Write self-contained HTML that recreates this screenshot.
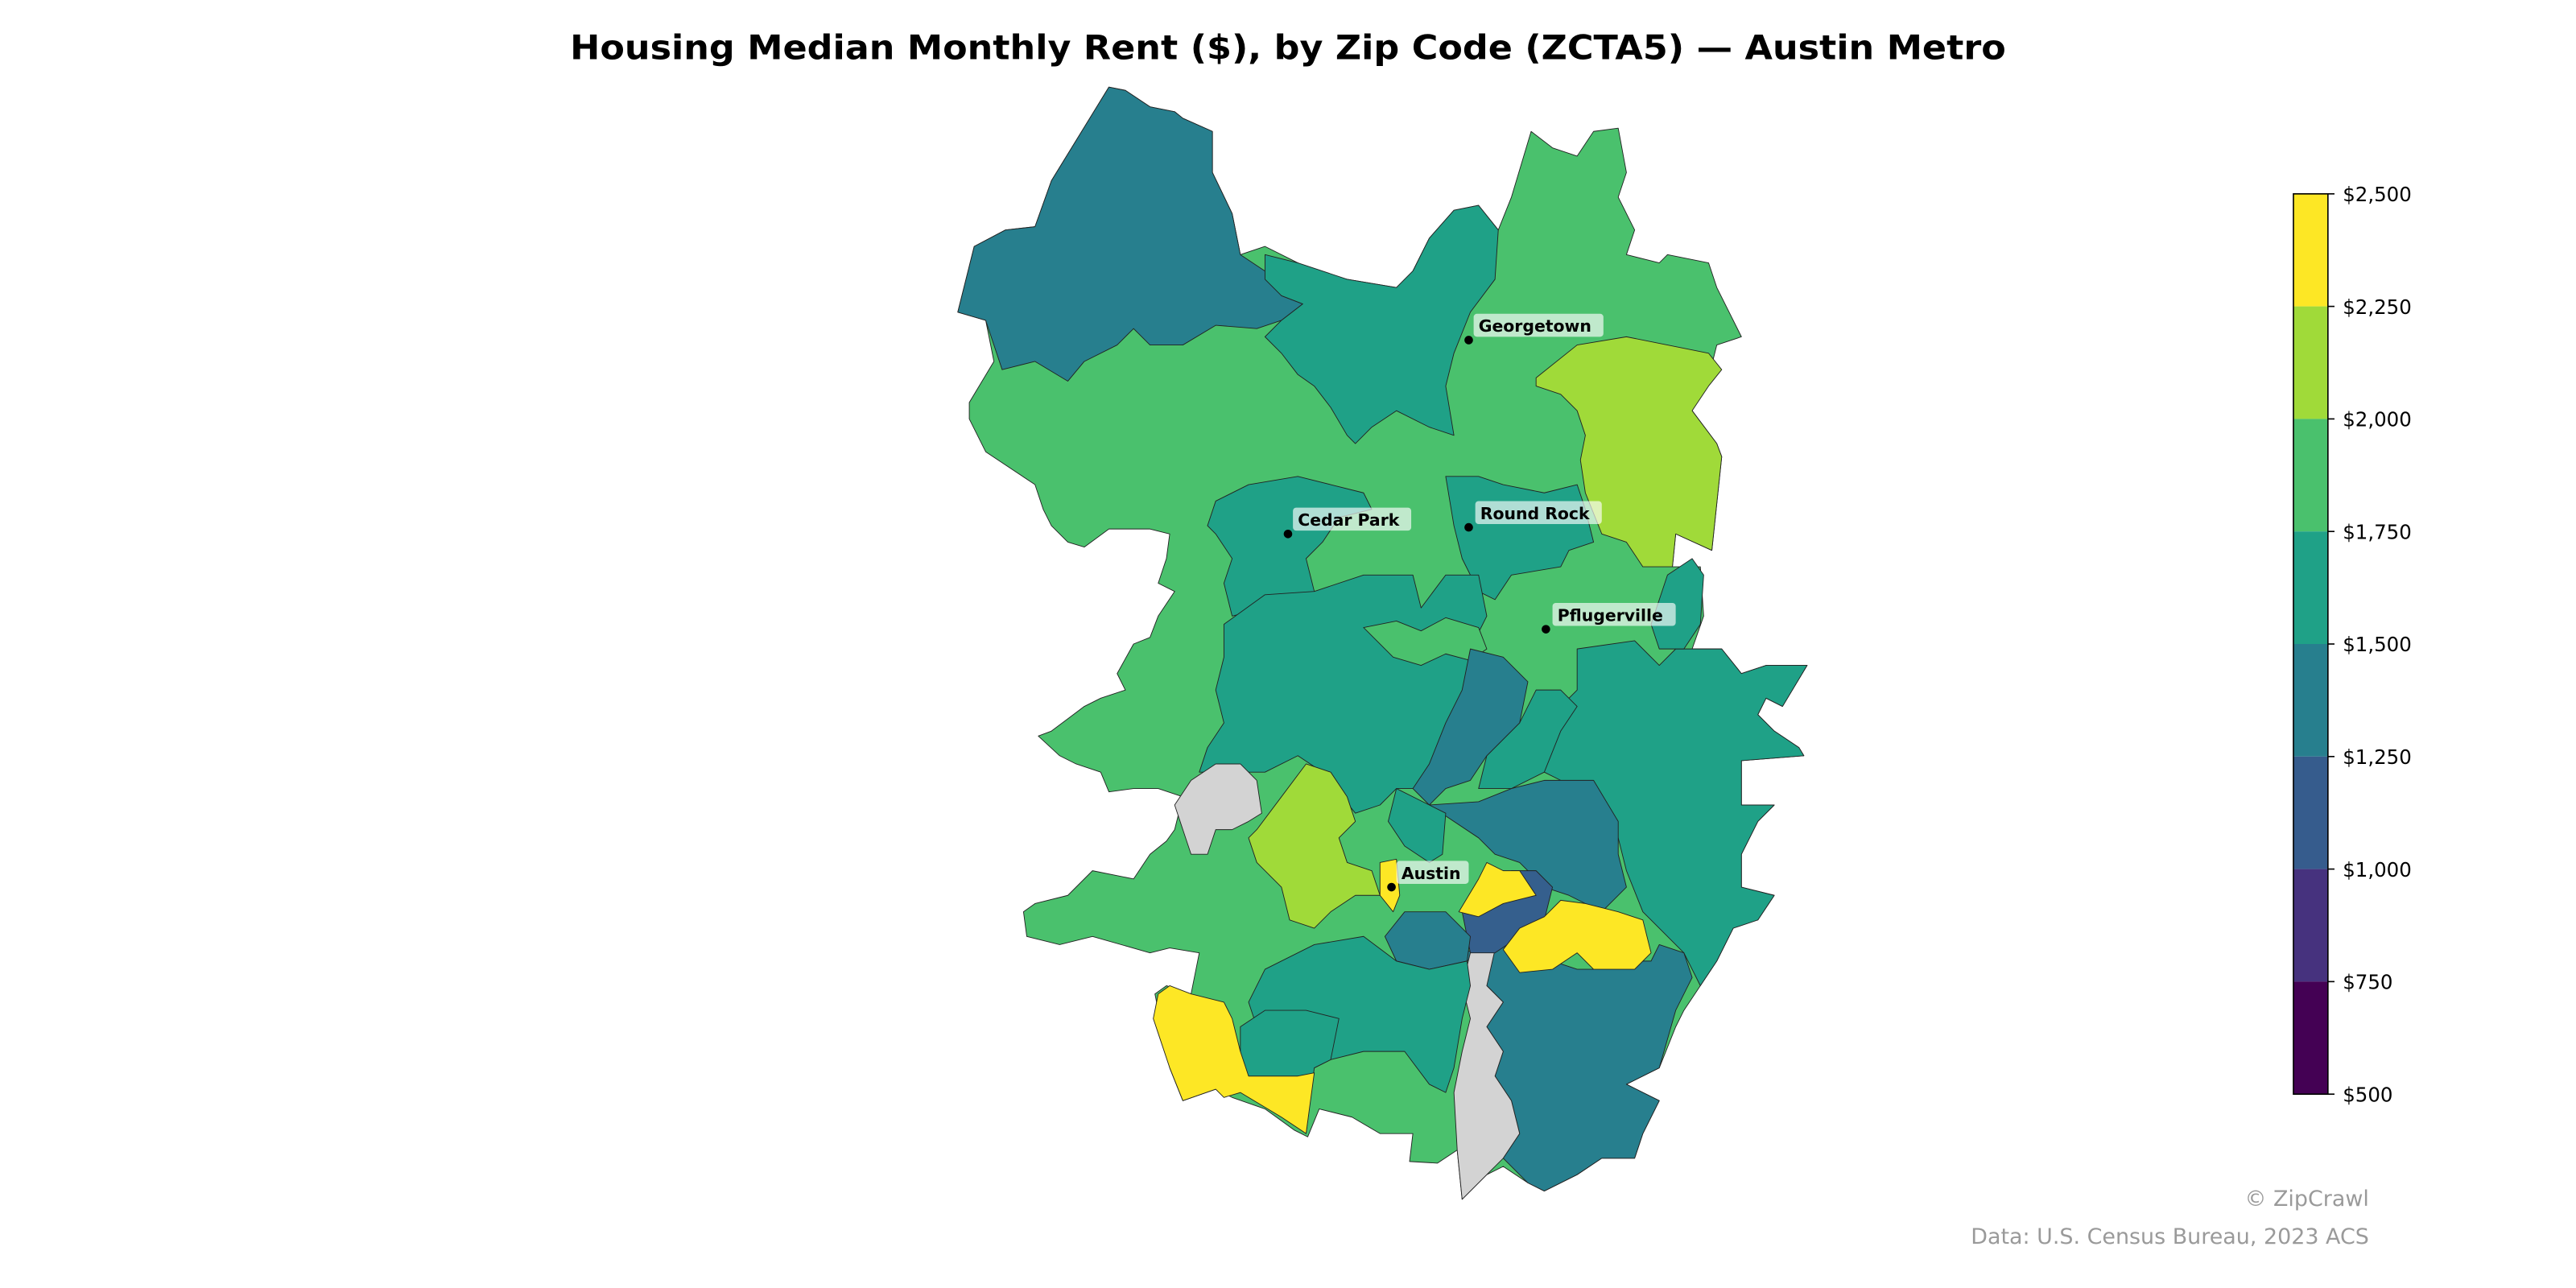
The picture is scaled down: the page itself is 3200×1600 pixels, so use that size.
<!DOCTYPE html>
<html><head><meta charset="utf-8"><style>
html,body{margin:0;padding:0;background:#fff;}
svg{display:block;}
text{font-family:"DejaVu Sans","Liberation Sans",sans-serif;}
</style></head><body>
<svg width="3200" height="1600" viewBox="0 0 1568 784" xmlns="http://www.w3.org/2000/svg">
<rect width="1568" height="784" fill="#fff"/>
<text x="784" y="36" text-anchor="middle" font-size="20.5" font-weight="bold" textLength="874" lengthAdjust="spacingAndGlyphs">Housing Median Monthly Rent ($), by Zip Code (ZCTA5) — Austin Metro</text>
<g stroke="#222" stroke-width="0.45" stroke-linejoin="round">
<polygon fill="#4ac16d" points="583,190 593,150 612,140 630,138 640,110 675,53 685,55 700,65 715,68 720,72 738,80 738,105 750,130 755,155 770,150 790,160 800,165 820,170 850,175 860,165 870,145 885,128 900,125 912,140 920,120 932,80 945,90 960,95 970,80 985,78 990,105 985,120 995,140 990,155 1010,160 1015,155 1040,160 1045,175 1060,205 1045,210 1040,230 1030,250 1045,270 1048,278 1042,335 1020,325 1018,345 1035,345 1037,375 1030,395 1048,395 1060,410 1075,405 1100,405 1085,430 1075,425 1070,435 1080,445 1095,455 1098,460 1060,463 1060,490 1080,490 1070,500 1060,520 1060,540 1080,545 1070,560 1065,555 1055,565 1045,585 1035,600 1025,615 1020,625 1010,650 990,660 1010,670 1000,690 995,705 975,705 960,715 940,725 930,720 915,710 905,715 890,730 887,700 875,708 858,707 860,690 840,690 823,680 803,675 796,692 788,688 770,675 750,668 740,663 720,670 712,650 708,630 703,605 710,600 725,605 730,580 712,577 700,580 665,570 645,575 625,570 623,555 630,550 650,545 665,530 690,535 700,520 710,512 715,505 720,485 705,480 690,480 675,482 670,470 655,465 645,460 632,448 640,445 660,430 670,425 685,420 680,410 690,392 700,388 705,375 715,360 705,355 710,340 712,325 700,322 675,322 660,333 650,330 640,320 635,310 630,295 600,275 590,255 590,245 605,220 600,195"/>
<polygon fill="#277f8e" points="583,190 593,150 612,140 630,138 640,110 675,53 685,55 700,65 715,68 720,72 738,80 738,105 750,130 755,155 770,165 780,180 793,185 780,195 765,200 740,198 720,210 700,210 690,200 680,210 660,220 650,232 630,220 610,225 600,195"/>
<polygon fill="#1fa187" points="770,155 790,160 820,170 850,175 860,165 870,145 885,128 900,125 912,140 910,170 895,190 885,215 880,235 885,265 870,260 850,250 835,260 825,270 820,265 810,248 800,235 790,228 780,215 770,205 780,195 793,185 780,180 770,170"/>
<polygon fill="#a0da39" points="935,230 960,210 990,205 1015,210 1040,215 1048,225 1040,235 1030,250 1045,270 1048,278 1042,335 1020,325 1018,345 1000,345 990,330 975,325 965,300 962,280 965,265 960,250 950,240 935,235"/>
<polygon fill="#1fa187" points="880,290 900,290 915,295 940,300 960,295 965,310 970,330 955,335 950,345 920,350 910,365 900,360 890,340 885,320"/>
<polygon fill="#1fa187" points="735,320 740,305 760,295 790,290 810,295 830,300 835,310 815,315 805,330 795,340 800,360 790,375 770,370 750,375 745,355 750,340 740,325"/>
<polygon fill="#1fa187" points="745,380 770,362 800,360 830,350 860,350 865,370 880,350 900,350 905,375 895,395 900,410 895,430 880,460 870,470 860,480 850,480 840,490 825,495 805,470 790,460 770,470 750,470 730,470 735,455 745,440 740,420 745,400"/>
<polygon fill="#4ac16d" points="830,382 850,378 865,384 880,376 900,382 905,395 895,402 880,398 865,405 848,400"/>
<polygon fill="#1fa187" points="960,395 995,390 1010,405 1020,395 1030,395 1048,395 1060,410 1075,405 1100,405 1085,430 1075,425 1070,435 1080,445 1095,455 1098,460 1060,463 1060,490 1080,490 1070,500 1060,520 1060,540 1080,545 1070,560 1055,565 1045,585 1035,600 1025,580 1000,555 990,530 985,510 970,480 950,475 940,470 930,460 935,440 950,430 960,420"/>
<polygon fill="#1fa187" points="1015,350 1030,340 1037,350 1035,380 1025,395 1010,395 1005,380"/>
<polygon fill="#1fa187" points="905,460 925,440 935,420 950,420 960,430 950,445 940,470 920,480 900,480"/>
<polygon fill="#277f8e" points="895,395 915,400 930,415 925,440 905,460 895,475 880,480 870,490 860,480 870,465 880,440 890,420"/>
<polygon fill="#277f8e" points="870,490 900,488 920,480 940,475 970,475 985,500 985,520 990,540 975,555 955,545 940,540 925,525 910,520 900,510"/>
<polygon fill="#1fa187" points="850,480 870,490 880,495 878,520 870,525 855,515 845,500"/>
<polygon fill="#277f8e" points="890,580 910,575 930,575 945,585 960,590 975,590 990,585 1005,585 1010,575 1025,580 1030,595 1020,615 1010,650 990,660 1010,670 1000,690 995,705 975,705 960,715 940,725 930,720 915,705 925,690 920,670 910,655 915,640 905,625 915,610 905,600"/>
<polygon fill="#d3d3d3" points="895,580 910,578 905,600 915,610 905,625 915,640 910,655 920,670 925,690 915,705 905,715 890,730 887,700 885,665 890,640 895,620 890,600"/>
<polygon fill="#355f8d" points="890,555 905,540 920,530 935,530 945,540 940,560 925,570 910,580 895,580"/>
<polygon fill="#fde725" points="915,578 925,565 940,558 950,548 965,550 985,555 1000,560 1005,580 995,590 970,590 960,580 945,590 925,592"/>
<polygon fill="#fde725" points="888,555 900,535 905,525 915,530 925,530 935,545 915,550 900,558"/>
<polygon fill="#fde725" points="840,525 850,523 852,545 848,555 840,545"/>
<polygon fill="#277f8e" points="843,570 855,555 880,555 895,570 893,585 870,590 850,585"/>
<polygon fill="#1fa187" points="770,590 800,575 830,570 850,585 870,590 893,585 895,600 890,620 885,650 880,665 870,660 855,640 830,640 810,645 800,650 785,640 765,625 760,610"/>
<polygon fill="#1fa187" points="755,625 770,615 795,615 815,620 810,645 800,650 795,690 790,680 760,660 755,645"/>
<polygon fill="#a0da39" points="765,505 780,485 795,465 810,470 820,485 825,500 815,510 820,525 835,530 840,545 825,545 810,555 800,565 785,560 780,540 765,525 760,510"/>
<polygon fill="#d3d3d3" points="715,490 725,475 740,465 755,465 765,475 768,495 760,500 750,505 740,505 735,520 725,520 720,505"/>
<polygon fill="#fde725" points="702,620 705,605 712,600 725,605 745,610 750,620 755,640 760,655 790,655 800,653 795,690 780,680 755,665 745,668 740,663 720,670 712,650 706,632"/>
</g>
<g font-size="10" font-weight="bold">
<rect x="897" y="191" width="79" height="14" rx="2" fill="#fff" opacity="0.65"/>
<circle cx="894" cy="207" r="2.6" fill="#000"/><text x="900" y="202">Georgetown</text>
<rect x="898" y="305" width="77" height="14" rx="2" fill="#fff" opacity="0.65"/>
<circle cx="894" cy="321" r="2.6" fill="#000"/><text x="901" y="316">Round Rock</text>
<rect x="787" y="309" width="72" height="14" rx="2" fill="#fff" opacity="0.65"/>
<circle cx="784" cy="325" r="2.6" fill="#000"/><text x="790" y="320">Cedar Park</text>
<rect x="945" y="367" width="75" height="14" rx="2" fill="#fff" opacity="0.65"/>
<circle cx="941" cy="383" r="2.6" fill="#000"/><text x="948" y="378">Pflugerville</text>
<rect x="850" y="524" width="44" height="14" rx="2" fill="#fff" opacity="0.65"/>
<circle cx="847" cy="540" r="2.6" fill="#000"/><text x="853" y="535">Austin</text>
</g>
<g>
<rect x="1396" y="118" width="21" height="68.5" fill="#fde725"/>
<rect x="1396" y="186.5" width="21" height="68.5" fill="#a0da39"/>
<rect x="1396" y="255" width="21" height="68.5" fill="#4ac16d"/>
<rect x="1396" y="323.5" width="21" height="68.5" fill="#1fa187"/>
<rect x="1396" y="392" width="21" height="68.5" fill="#277f8e"/>
<rect x="1396" y="460.5" width="21" height="68.5" fill="#365c8d"/>
<rect x="1396" y="529" width="21" height="68.5" fill="#46327e"/>
<rect x="1396" y="597.5" width="21" height="68.5" fill="#440154"/>
<rect x="1396" y="118" width="21" height="548" fill="none" stroke="#000" stroke-width="0.8"/>
<g stroke="#000" stroke-width="0.8">
<line x1="1417" x2="1421" y1="118" y2="118"/><line x1="1417" x2="1421" y1="186.5" y2="186.5"/><line x1="1417" x2="1421" y1="255" y2="255"/><line x1="1417" x2="1421" y1="323.5" y2="323.5"/><line x1="1417" x2="1421" y1="392" y2="392"/><line x1="1417" x2="1421" y1="460.5" y2="460.5"/><line x1="1417" x2="1421" y1="529" y2="529"/><line x1="1417" x2="1421" y1="597.5" y2="597.5"/><line x1="1417" x2="1421" y1="666" y2="666"/>
</g>
<g font-size="12" fill="#000">
<text x="1426" y="122.5">$2,500</text><text x="1426" y="191">$2,250</text><text x="1426" y="259.5">$2,000</text><text x="1426" y="328">$1,750</text><text x="1426" y="396.5">$1,500</text><text x="1426" y="465">$1,250</text><text x="1426" y="533.5">$1,000</text><text x="1426" y="602">$750</text><text x="1426" y="670.5">$500</text>
</g>
</g>
<text x="1442" y="734" text-anchor="end" font-size="13.2" fill="#9a9a9a">© ZipCrawl</text>
<text x="1442" y="757" text-anchor="end" font-size="13.2" fill="#9a9a9a">Data: U.S. Census Bureau, 2023 ACS</text>
</svg>
</body></html>
